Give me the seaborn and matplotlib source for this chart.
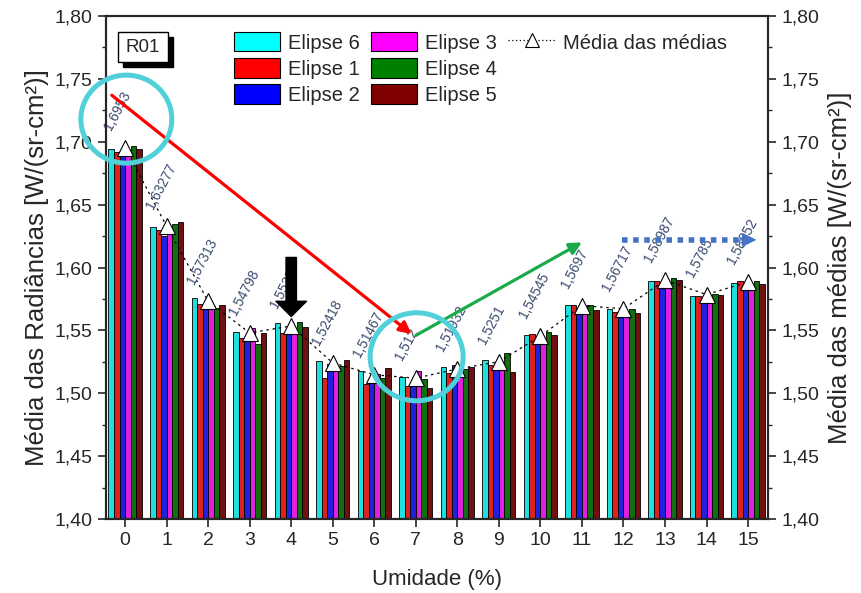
import matplotlib
matplotlib.use("Agg")
import matplotlib.pyplot as plt
import seaborn as sns
import pandas as pd
from matplotlib.patches import Patch, Ellipse, Rectangle
from matplotlib.lines import Line2D
from matplotlib.ticker import FuncFormatter, MultipleLocator

# ---------------- data ----------------
umidade = list(range(16))
series_names = ["Elipse 6", "Elipse 1", "Elipse 2", "Elipse 3", "Elipse 4", "Elipse 5"]
series_colors = ["#00ffff", "#ff0000", "#0000ff", "#ff00ff", "#008000", "#800000"]

elipse6 = [1.6945, 1.6323, 1.5760, 1.5490, 1.5560, 1.5255, 1.5180, 1.5130, 1.5205, 1.5265, 1.5465, 1.5700, 1.5670, 1.5895, 1.5775, 1.5880]
elipse1 = [1.6915, 1.6295, 1.5710, 1.5440, 1.5480, 1.5120, 1.5070, 1.5055, 1.5160, 1.5225, 1.5470, 1.5700, 1.5650, 1.5895, 1.5775, 1.5890]
elipse2 = [1.6910, 1.6250, 1.5695, 1.5440, 1.5500, 1.5235, 1.5120, 1.5080, 1.5225, 1.5215, 1.5420, 1.5660, 1.5635, 1.5860, 1.5745, 1.5855]
elipse3 = [1.6910, 1.6295, 1.5695, 1.5520, 1.5500, 1.5225, 1.5150, 1.5180, 1.5150, 1.5215, 1.5405, 1.5660, 1.5635, 1.5840, 1.5745, 1.5855]
elipse4 = [1.6965, 1.6345, 1.5675, 1.5390, 1.5565, 1.5220, 1.5120, 1.5110, 1.5195, 1.5320, 1.5490, 1.5705, 1.5670, 1.5915, 1.5790, 1.5895]
elipse5 = [1.6940, 1.6360, 1.5705, 1.5480, 1.5530, 1.5265, 1.5200, 1.5045, 1.5205, 1.5165, 1.5465, 1.5665, 1.5635, 1.5900, 1.5780, 1.5870]

medias = [1.6953, 1.63277, 1.57313, 1.54798, 1.5535, 1.52418, 1.51467, 1.512,
          1.51932, 1.5251, 1.54545, 1.5697, 1.56717, 1.58987, 1.5785, 1.58852]
medias_labels = ["1,6953", "1,63277", "1,57313", "1,54798", "1,5535", "1,52418", "1,51467", "1,512",
                 "1,51932", "1,5251", "1,54545", "1,5697", "1,56717", "1,58987", "1,5785", "1,58852"]

y_ticks = [1.40, 1.45, 1.50, 1.55, 1.60, 1.65, 1.70, 1.75, 1.80]

all_series = [elipse6, elipse1, elipse2, elipse3, elipse4, elipse5]
rows = []
for name, vals in zip(series_names, all_series):
    for u, v in zip(umidade, vals):
        rows.append({"Umidade": u, "Valor": v, "Série": name})
df = pd.DataFrame(rows)

# ---------------- figure ----------------
sns.set_style("ticks")
plt.rcParams["font.family"] = ["Liberation Sans", "DejaVu Sans"]

fig = plt.figure(figsize=(8.61, 5.93), dpi=100)
ax = fig.add_axes([0.1231, 0.1248, 0.892 - 0.1231, 0.973 - 0.1248])

sns.barplot(data=df, x="Umidade", y="Valor", hue="Série", hue_order=series_names,
            palette=series_colors, errorbar=None, edgecolor="black", linewidth=0.6,
            width=0.8, ax=ax, legend=False, zorder=2)

sns.lineplot(x=umidade, y=medias, ax=ax, color="black", linestyle=(0, (2, 3)),
             linewidth=0.9, marker="^", markersize=11, markerfacecolor="white",
             markeredgecolor="black", markeredgewidth=0.8, zorder=5)

# value labels
for u, m, lab in zip(umidade, medias, medias_labels):
    ax.annotate(lab, xy=(u, m), xytext=(-8, 11), textcoords="offset points",
                rotation=62, rotation_mode="anchor", ha="left", va="bottom",
                fontsize=9.8, color="#3a4a6e", zorder=6)

ax.set_xlim(-0.46, 15.48)
ax.set_ylim(1.40, 1.80)
ax.set_yticks(y_ticks)
ax.yaxis.set_minor_locator(MultipleLocator(0.025))
fmt = FuncFormatter(lambda v, p: f"{v:.2f}".replace(".", ","))
ax.yaxis.set_major_formatter(fmt)
ax.set_xticks(umidade)
ax.set_xticklabels([str(u) for u in umidade])

ax.set_xlabel("Umidade (%)", fontsize=16, labelpad=14)
ax.set_ylabel("Média das Radiâncias [W/(sr-cm²)]", fontsize=18.5, labelpad=4)

ax.tick_params(axis="both", which="major", labelsize=14, direction="out", length=6, width=1.2, top=False)
ax.tick_params(axis="y", which="minor", direction="out", length=3, width=1.0)
for s in ax.spines.values():
    s.set_linewidth(1.5)
    s.set_color("black")

ax2 = ax.twinx()
ax2.set_ylim(1.40, 1.80)
ax2.set_yticks(y_ticks)
ax2.yaxis.set_minor_locator(MultipleLocator(0.025))
ax2.yaxis.set_major_formatter(fmt)
ax2.tick_params(axis="y", which="major", labelsize=14, direction="out", length=6, width=1.2)
ax2.tick_params(axis="y", which="minor", direction="out", length=3, width=1.0)
ax2.set_ylabel("Média das médias [W/(sr-cm²)]", fontsize=18.5, labelpad=6)
for s in ax2.spines.values():
    s.set_linewidth(1.5)

# legend
handles = [Patch(facecolor=c, edgecolor="black", linewidth=0.8) for c in series_colors[:3]]
handles += [Patch(facecolor=c, edgecolor="black", linewidth=0.8) for c in series_colors[3:]]
mline = Line2D([], [], color="black", linestyle=(0, (1, 2)), linewidth=0.9, marker="^",
               markersize=10, markerfacecolor="white", markeredgecolor="black", markeredgewidth=0.8)
blank = Line2D([], [], linestyle="none")
handles += [mline, blank, blank]
labels = series_names[:3] + series_names[3:] + ["Média das médias", "", ""]
ax2.legend(handles, labels, ncol=3, loc="upper left", bbox_to_anchor=(0.193, 0.968),
           frameon=False, fontsize=14.5, handlelength=2.3, handleheight=1.1,
           handletextpad=0.4, columnspacing=0.55, labelspacing=0.28, borderpad=0, borderaxespad=0)

# R01 box with shadow
ax2.add_patch(Rectangle((0.026, 0.898), 0.0757, 0.060, transform=ax2.transAxes,
                        facecolor="black", edgecolor="black", zorder=7, clip_on=False))
ax2.add_patch(Rectangle((0.018, 0.908), 0.0757, 0.060, transform=ax2.transAxes,
                        facecolor="white", edgecolor="black", linewidth=1.0, zorder=8, clip_on=False))
ax2.text(0.0558, 0.938, "R01", transform=ax2.transAxes, ha="center", va="center",
         fontsize=13.5, zorder=9)

# annotations (arrows and circles)
ax2.annotate("", xy=(6.9, 1.547), xytext=(-0.32, 1.737),
             arrowprops=dict(arrowstyle="-|>", color="#ff0000", lw=2.3, mutation_scale=18,
                             shrinkA=0, shrinkB=0), zorder=10)
ax2.annotate("", xy=(11.0, 1.620), xytext=(7.0, 1.546),
             arrowprops=dict(arrowstyle="-|>", color="#1aaa4a", lw=2.3, mutation_scale=18,
                             shrinkA=0, shrinkB=0), zorder=10)
ax2.plot([11.96, 14.85], [1.622, 1.622], color="#4472c4", lw=4, linestyle=(0, (1, 1)), zorder=10)
ax2.annotate("", xy=(15.2, 1.622), xytext=(14.8, 1.622),
             arrowprops=dict(arrowstyle="-|>", color="#4472c4", lw=1, mutation_scale=22,
                             shrinkA=0, shrinkB=0), zorder=10)
ax2.annotate("", xy=(4.0, 1.561), xytext=(4.0, 1.608),
             arrowprops=dict(arrowstyle="simple,head_width=2.2,head_length=1.1,tail_width=0.75",
                             color="black", mutation_scale=10, shrinkA=0, shrinkB=0), zorder=10)
ax2.add_patch(Ellipse((0.03, 1.718), 2.19, 0.070, fill=False, edgecolor="#50d0d8", lw=3.6,
                      zorder=11, clip_on=False))
ax2.add_patch(Ellipse((7.02, 1.529), 2.24, 0.070, fill=False, edgecolor="#50d0d8", lw=3.6,
                      zorder=11, clip_on=False))

fig.savefig("out.png", dpi=100)
